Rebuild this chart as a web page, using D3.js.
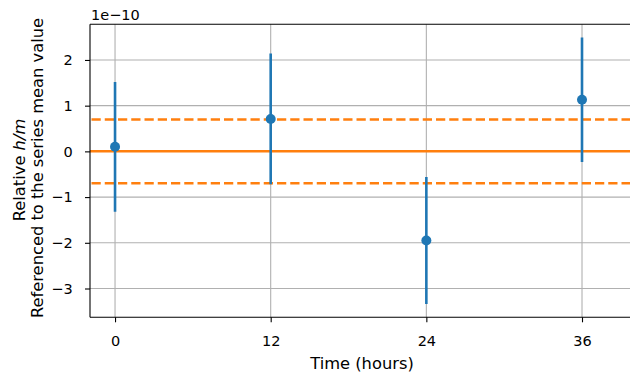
<!DOCTYPE html>
<html>
<head>
<meta charset="utf-8">
<script src="https://cdn.jsdelivr.net/npm/d3@7"></script>
<style>
  html, body { margin: 0; padding: 0; background: #fff; }
  svg { display: block; font-family: "DejaVu Sans", sans-serif; }
</style>
</head>
<body>
<svg id="chart" width="630" height="372"></svg>
<script>
// Data (values in units of 1e-10)
const times = [0, 12, 24, 36];
const values = [0.10, 0.71, -1.95, 1.13];
const errors = [1.42, 1.43, 1.39, 1.36];
const meanLine = 0;
const bandHalfWidth = 0.70;
const xTicks = [0, 12, 24, 36];
const yTicks = [-3, -2, -1, 0, 1, 2];
const xLabel = "Time (hours)";
const yLabelLine2 = "Referenced to the series mean value";
const offsetText = "1e\u221210";

(function () {
const pL = 90, pR = 630, pT = 24.3, pB = 317.3;
const fsTick = 14.5, fsLabel = 16.3;

const svg = d3.select("#chart");

const x = d3.scaleLinear().domain([-1.93, 39.7]).range([pL, pR]);
const y = d3.scaleLinear().domain([-3.63, 2.78]).range([pB, pT]);

svg.append("defs").append("clipPath").attr("id", "clip")
  .append("rect").attr("x", pL).attr("y", pT)
  .attr("width", pR - pL).attr("height", pB - pT);

// Grid
const grid = svg.append("g");
grid.selectAll(".gx").data(xTicks).join("line")
  .attr("x1", d => x(d)).attr("x2", d => x(d))
  .attr("y1", pT).attr("y2", pB)
  .attr("stroke", "#b0b0b0").attr("stroke-width", 1.1);
grid.selectAll(".gy").data(yTicks).join("line")
  .attr("x1", pL).attr("x2", pR)
  .attr("y1", d => y(d)).attr("y2", d => y(d))
  .attr("stroke", "#b0b0b0").attr("stroke-width", 1.1);

const plot = svg.append("g").attr("clip-path", "url(#clip)");

// Mean and band lines
plot.append("line")
  .attr("x1", pL).attr("x2", pR)
  .attr("y1", y(meanLine)).attr("y2", y(meanLine))
  .attr("stroke", "#ff7f0e").attr("stroke-width", 2.5);
[bandHalfWidth, -bandHalfWidth].forEach(v => {
  plot.append("line")
    .attr("x1", pL + 1.5).attr("x2", pR)
    .attr("y1", y(v)).attr("y2", y(v))
    .attr("stroke", "#ff7f0e").attr("stroke-width", 2.5)
    .attr("stroke-dasharray", "9.25,4");
});

// Error bars
const pts = times.map((t, i) => ({t, v: values[i], e: errors[i]}));
plot.selectAll(".eb").data(pts).join("line")
  .attr("x1", d => x(d.t)).attr("x2", d => x(d.t))
  .attr("y1", d => y(d.v - d.e)).attr("y2", d => y(d.v + d.e))
  .attr("stroke", "#1f77b4").attr("stroke-width", 2.6);
plot.selectAll(".pt").data(pts).join("circle")
  .attr("cx", d => x(d.t)).attr("cy", d => y(d.v))
  .attr("r", 5).attr("fill", "#1f77b4");

// Spines
svg.append("line").attr("x1", pL).attr("x2", pL).attr("y1", pT).attr("y2", pB)
  .attr("stroke", "#000").attr("stroke-width", 1.1);
svg.append("line").attr("x1", pL).attr("x2", pR).attr("y1", pB).attr("y2", pB)
  .attr("stroke", "#000").attr("stroke-width", 1.1);
svg.append("line").attr("x1", pL).attr("x2", pR).attr("y1", pT).attr("y2", pT)
  .attr("stroke", "#000").attr("stroke-width", 1.1);

// Axes
const xAxis = svg.append("g").attr("transform", `translate(0,${pB})`)
  .call(d3.axisBottom(x).tickValues(xTicks).tickSize(5).tickPadding(13.2).tickFormat(d3.format("d")));
const yAxis = svg.append("g").attr("transform", `translate(${pL},0)`)
  .call(d3.axisLeft(y).tickValues(yTicks).tickSize(5).tickPadding(12.3).tickFormat(d3.format("d")));
[xAxis, yAxis].forEach(a => {
  a.select(".domain").remove();
  a.selectAll(".tick line").attr("stroke", "#000").attr("stroke-width", 1.1);
  a.selectAll(".tick text").attr("fill", "#000")
    .style("font-family", "DejaVu Sans").style("font-size", fsTick + "px");
});

// Offset text
svg.append("text").attr("x", pL + 1).attr("y", 20)
  .style("font-size", fsTick + "px").attr("fill", "#000").text(offsetText);

// X label
svg.append("text").attr("x", 362).attr("y", 369.3)
  .attr("text-anchor", "middle").style("font-size", fsLabel + "px").attr("fill", "#000")
  .text(xLabel);

// Y label (two lines)
const yl = svg.append("text").attr("transform", "translate(25,170) rotate(-90)")
  .attr("text-anchor", "middle").style("font-size", fsLabel + "px").attr("fill", "#000");
yl.append("tspan").text("Relative ");
yl.append("tspan").style("font-style", "italic").text("h/m");
svg.append("text").attr("transform", "translate(43.3,168) rotate(-90)")
  .attr("text-anchor", "middle").style("font-size", fsLabel + "px").attr("fill", "#000")
  .text(yLabelLine2);
})();
</script>
</body>
</html>
